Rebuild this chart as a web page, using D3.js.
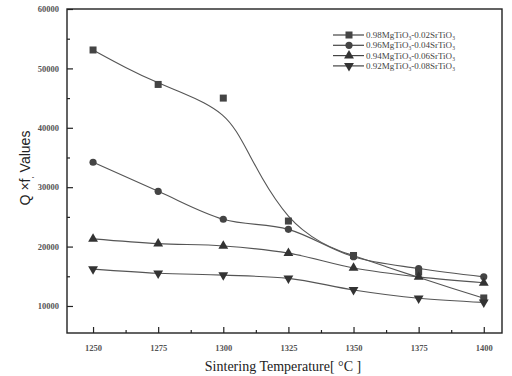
<!DOCTYPE html>
<html><head><meta charset="utf-8">
<script src="https://cdn.jsdelivr.net/npm/d3@7"></script>
<style>body{margin:0;background:#fff}</style>
</head><body><svg id="c" width="512" height="376"></svg>
<script>
const temps = [1250, 1275, 1300, 1325, 1350, 1375, 1400];
const seriesNames = ["0.98MgTiO|3|-0.02SrTiO|3|", "0.96MgTiO|3|-0.04SrTiO|3|", "0.94MgTiO|3|-0.06SrTiO|3|", "0.92MgTiO|3|-0.08SrTiO|3|"];
const markers = ["square", "circle", "triangle", "triangleDown"];
const s98 = [53100, 47300, 45000, 24300, 18500, 15700, 11350];
const s96 = [34200, 29300, 24600, 22900, 18300, 16300, 14900];
const s94 = [21300, 20500, 20100, 18900, 16400, 14900, 13900];
const s92 = [16200, 15500, 15200, 14650, 12700, 11300, 10600];
// fitted curve for 0.98 series
const fitT98 = [1250, 1262.5, 1275, 1285, 1292.5, 1300, 1305, 1310, 1315, 1320, 1325, 1330, 1337.5, 1345, 1350, 1362.5, 1375, 1387.5, 1400];
const fitV98 = [53100, 50100, 47500, 45800, 44300, 42300, 39600, 35500, 31400, 27900, 25000, 22900, 20600, 19200, 18500, 16600, 14800, 13000, 11300];
const yTicks = [10000, 20000, 30000, 40000, 50000, 60000];
const yMinor = [15000, 25000, 35000, 45000, 55000];
const xMinor = [1262.5, 1287.5, 1312.5, 1337.5, 1362.5, 1387.5];

const svg = d3.select("#c");
const x = d3.scaleLinear().domain([1240, 1407]).range([67, 502]);
const y = d3.scaleLinear().domain([5450, 60000]).range([333, 9]);

// frame
svg.append("rect").attr("x", 67).attr("y", 9).attr("width", 435).attr("height", 324)
  .attr("fill", "none").attr("stroke", "#222").attr("stroke-width", 1.4);

// axes with inward ticks
svg.append("g").attr("transform", "translate(0,333)")
  .call(d3.axisBottom(x).tickValues(temps).tickSize(-6).tickPadding(12).tickFormat(d3.format("d")));
svg.append("g").attr("transform", "translate(0,333)")
  .call(d3.axisBottom(x).tickValues(xMinor).tickSize(-3).tickFormat(""));
svg.append("g").attr("transform", "translate(67,0)")
  .call(d3.axisLeft(y).tickValues(yTicks).tickSize(-6).tickPadding(8).tickFormat(d3.format("d")));
svg.append("g").attr("transform", "translate(67,0)")
  .call(d3.axisLeft(y).tickValues(yMinor).tickSize(-3).tickFormat(""));
svg.selectAll(".domain").remove();
svg.selectAll(".tick line").attr("stroke", "#222").attr("stroke-width", 1.2);
svg.selectAll(".tick text").attr("font-family", "Liberation Serif").attr("font-size", 8.5)
  .attr("font-weight", "bold").attr("fill", "#555");

// titles
svg.append("text").attr("x", 283).attr("y", 371).attr("text-anchor", "middle")
  .attr("font-family", "Liberation Serif").attr("font-size", 14).attr("fill", "#222")
  .text("Sintering Temperature[ °C ]");
const yt = svg.append("text").attr("transform", "translate(30,168) rotate(-90)").attr("text-anchor", "middle")
  .attr("font-family", "Liberation Sans").attr("font-size", 14).attr("fill", "#222");
yt.append("tspan").text("Q ×f");
yt.append("tspan").attr("font-size", 8).attr("dy", 3).text(",");
yt.append("tspan").attr("dy", -3).text(" Values");

const line = d3.line().x(d => x(d[0])).y(d => y(d[1]));
const data = [s98, s96, s94, s92];

// lines
svg.append("path").datum(fitT98.map((t, i) => [t, fitV98[i]]))
  .attr("d", line.curve(d3.curveBasis))
  .attr("fill", "none").attr("stroke", "#555").attr("stroke-width", 1.1);
data.slice(1).forEach(vals => {
  svg.append("path").datum(temps.map((t, i) => [t, vals[i]]))
    .attr("d", line.curve(d3.curveMonotoneX))
    .attr("fill", "none").attr("stroke", "#555").attr("stroke-width", 1.1);
});

function drawMarker(g, type, cx, cy) {
  if (type === "square") g.append("rect").attr("x", cx - 3.5).attr("y", cy - 3.5).attr("width", 7).attr("height", 7).attr("fill", "#444");
  else if (type === "circle") g.append("circle").attr("cx", cx).attr("cy", cy).attr("r", 3.6).attr("fill", "#444");
  else {
    const sym = d3.symbol().type(d3.symbolTriangle).size(42);
    g.append("path").attr("d", sym()).attr("transform", `translate(${cx},${cy})` + (type === "triangleDown" ? " rotate(180)" : "")).attr("fill", "#333");
  }
}
data.forEach((vals, k) => {
  const g = svg.append("g");
  temps.forEach((t, i) => drawMarker(g, markers[k], x(t), y(vals[i])));
});

// legend
seriesNames.forEach((name, k) => {
  const ly = 35 + k * 10.3;
  svg.append("line").attr("x1", 333).attr("x2", 364).attr("y1", ly).attr("y2", ly).attr("stroke", "#444").attr("stroke-width", 1.2);
  drawMarker(svg.append("g"), markers[k], 349, ly);
  const t = svg.append("text").attr("x", 366).attr("y", ly + 3).attr("font-family", "Liberation Serif")
    .attr("font-size", 9).attr("fill", "#444");
  name.split("|").forEach((part, j) => {
    if (j % 2 === 1) t.append("tspan").attr("font-size", 5.5).attr("dy", 2).text(part);
    else if (part) t.append("tspan").attr("dy", j === 0 ? 0 : -2).text(part);
  });
});
</script></body></html>
